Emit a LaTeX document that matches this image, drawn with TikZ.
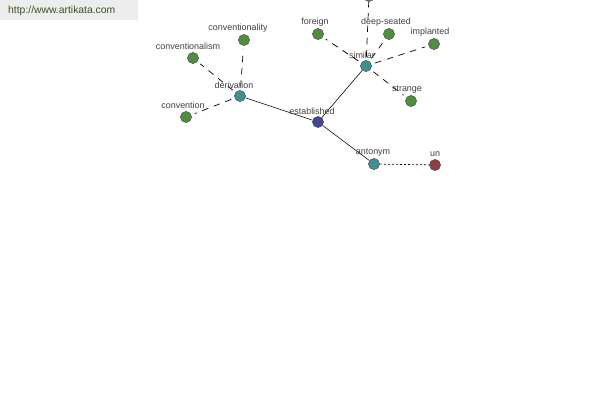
\documentclass[tikz,border=0pt]{standalone}
\usepackage{fontspec}
\setmainfont{Liberation Sans}
\definecolor{gnode}{HTML}{4E8F3E}
\definecolor{tnode}{HTML}{3F9191}
\definecolor{bnode}{HTML}{42469A}
\definecolor{rnode}{HTML}{8E3E42}
\definecolor{lbl}{HTML}{404040}
\definecolor{hdr}{HTML}{3B5320}
\begin{document}
\begin{tikzpicture}[x=0.85pt,y=-0.85pt,
  dot/.style={circle,minimum size=9.5pt,inner sep=0pt},
  lab/.style={font=\fontsize{7.6pt}{8pt}\selectfont,text=lbl,inner sep=0pt},
  rel/.style={draw=black,line width=0.5pt},
  dashedge/.style={draw=black,line width=0.6pt,dash pattern=on 5.5pt off 5pt,shorten <=3pt,shorten >=3pt},
  dotedge/.style={draw=black,line width=0.6pt,dash pattern=on 1.7pt off 1.7pt}]
\useasboundingbox (0,0) rectangle (600,400);
\fill[white] (0,0) rectangle (600,400);
\fill[black!7] (0,0) rectangle (138,20);
\node[anchor=west,font=\fontsize{8.8pt}{10pt}\selectfont,text=hdr,inner sep=0pt] (hdr) at (8,11) {http://www.artikata.com};
% nodes (placement)
\node[dot] (est) at (318,122) {};
\node[dot] (der) at (240,96) {};
\node[dot] (cty) at (244,40) {};
\node[dot] (csm) at (193,58) {};
\node[dot] (con) at (186,117) {};
\node[dot] (sim) at (366,66) {};
\node[dot] (for) at (318,34) {};
\node[dot] (deep) at (389,34) {};
\node[dot] (imp) at (434,44) {};
\node[dot] (str) at (411,101) {};
\node[dot] (top) at (369,-4) {};
\node[dot] (ant) at (374,164) {};
\node[dot] (un) at (435,165) {};
% edges
\path[rel] (der) -- (est);
\path[rel] (est) -- (sim);
\path[rel] (est) -- (ant);
\path[dashedge] (der) -- (cty);
\path[dashedge] (der) -- (csm);
\path[dashedge] (der) -- (con);
\path[dashedge] (sim) -- (for);
\path[dashedge] (sim) -- (deep);
\path[dashedge] (sim) -- (imp);
\path[dashedge] (sim) -- (str);
\path[dashedge,shorten >=0pt] (sim) -- (top);
\path[dotedge] (ant) -- (un);
% node discs
\foreach \n/\c in {est/bnode,der/tnode,cty/gnode,csm/gnode,con/gnode,sim/tnode,for/gnode,deep/gnode,imp/gnode,str/gnode,top/gnode,ant/tnode,un/rnode}{
  \filldraw[fill=\c,draw=black!70,line width=0.4pt] (\n.center) circle (4.75pt);
}
% labels
\node[lab] (lEst) at (312,111) {established};
\node[lab] (lDer) at (234,85) {derivation};
\node[lab] (lCty) at (238,28.5) {conventionality};
\node[lab] (lCsm) at (188,46.5) {conventionalism};
\node[lab] (lCon) at (183,105.5) {convention};
\node[lab] (lSim) at (362,55) {similar};
\node[lab] (lFor) at (315,22) {foreign};
\node[lab] (lDeep) at (386,22) {deep-seated};
\node[lab] (lImp) at (430,32) {implanted};
\node[lab] (lStr) at (407,90) {strange};
\node[lab] (lAnt) at (373,153) {antonym};
\node[lab] (lUn) at (435,154) {un};
\end{tikzpicture}
\end{document}
